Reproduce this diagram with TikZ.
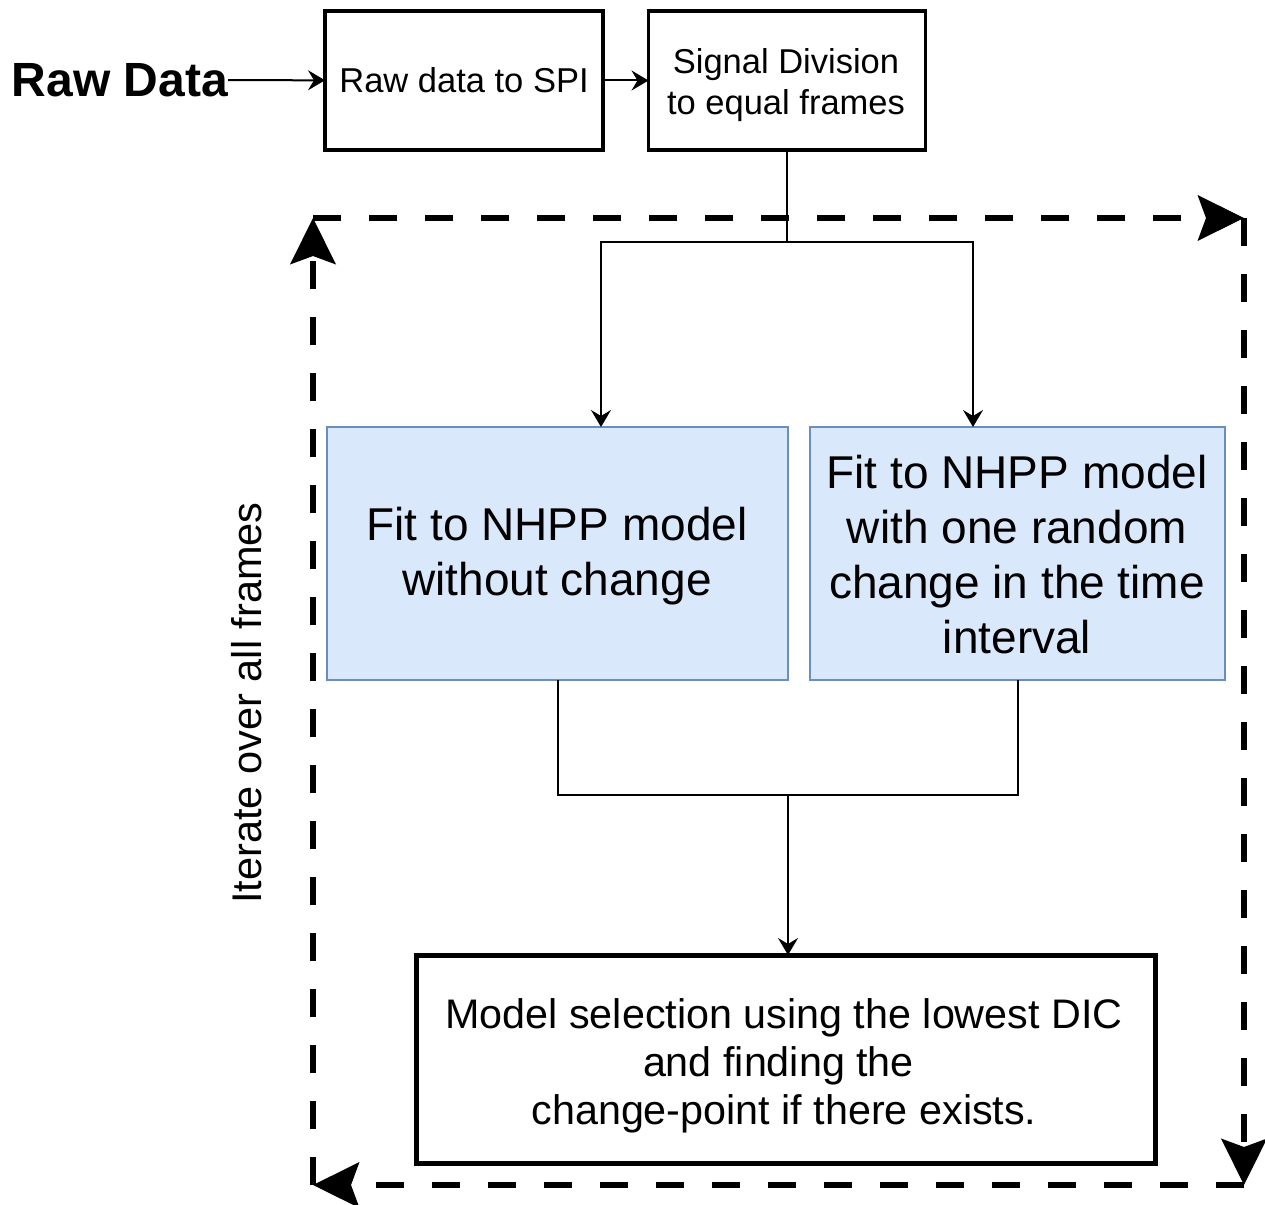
\documentclass[tikz,border=0pt]{standalone}
\usepackage{fontspec}
\setmainfont{Liberation Sans}
\usetikzlibrary{arrows.meta}
\definecolor{boxfill}{HTML}{DAE8FC}
\definecolor{boxline}{HTML}{6C8EBF}
\tikzset{
  plainbox/.style={draw=black, line width=3.5pt, fill=white, inner sep=0pt, outer sep=0pt, align=center},
  modelbox/.style={draw=boxline, line width=1.5pt, fill=boxfill, inner sep=0pt, outer sep=0pt, align=center},
  boxtext/.style={inner sep=0pt, align=center},
  conn/.style={line width=2pt, -{Stealth[length=17pt,width=20pt,inset=6pt]}},
  link/.style={line width=2pt},
  loopline/.style={line width=6pt, dash pattern=on 28pt off 28pt,
    -{Stealth[length=46pt,width=45pt,inset=8pt]}},
  txtA/.style={font=\fontsize{34.5}{41}\selectfont},
  txtB/.style={font=\fontsize{46}{55}\selectfont},
  txtC/.style={font=\fontsize{41.3}{48}\selectfont},
}
\begin{document}
\begin{tikzpicture}[x=1pt,y=-1pt]
\useasboundingbox (0,0) rectangle (1265,1204);

% pre-processing chain
\node[font=\fontsize{48}{57}\selectfont\bfseries, inner sep=0pt, outer sep=0pt] (raw) at (120,80) {Raw Data};
\node[plainbox, txtA, minimum width=278pt, minimum height=139pt] (spi) at (464,80.5) {Raw data to SPI};
\node[plainbox, minimum width=277pt, minimum height=139pt] (sig) at (787,80.5) {};
\node[boxtext, txtA] (sigtext) at (786,85) {Signal Division\\to equal frames};

% the two model fits
\node[modelbox, minimum width=461pt, minimum height=253pt] (fit0) at (557.5,553.5) {};
\node[boxtext, txtB] (fit0text) at (557,556) {Fit to NHPP model\\without change};
\node[modelbox, minimum width=415pt, minimum height=253pt] (fit1) at (1017.5,553.5) {};
\node[boxtext, txtB] (fit1text) at (1017,555) {Fit to NHPP model\\with one random\\change in the time\\interval};

% selection
\node[plainbox, line width=5pt, minimum width=739pt, minimum height=208pt] (sel) at (786,1059) {};
\node[boxtext, txtC] (seltext) at (784,1066) {Model selection using the lowest DIC\\and finding the\rule{11pt}{0pt}\\change-point if there exists.};

% loop label
\node[rotate=90, font=\fontsize{41.5}{48}\selectfont] (iter) at (247,703) {Iterate over all frames};

% junction points
\coordinate (in0) at (601,427);
\coordinate (in1) at (973,427);
\coordinate (merge) at (788,795);

% connectors
\draw[conn] (raw) -- (spi);
\draw[conn] (spi) -- (sig);
\draw[conn] (sig.south) -- ++(0,92) -| (in0);
\draw[conn] (sig.south) -- ++(0,92) -| (in1);
\draw[link] (fit0.south) |- (merge) -| (fit1.south);
\draw[conn] (merge) -- (merge |- sel.north);

% dashed iteration loop
\coordinate (c1) at (313,218);
\coordinate (c2) at (1244,218);
\coordinate (c3) at (1244,1185);
\coordinate (c4) at (313,1185);
\draw[loopline] (c1) -- (c2);
\draw[loopline] (c2) -- (c3);
\draw[loopline] (c3) -- (c4);
\draw[loopline] (c4) -- (c1);
\end{tikzpicture}
\end{document}
